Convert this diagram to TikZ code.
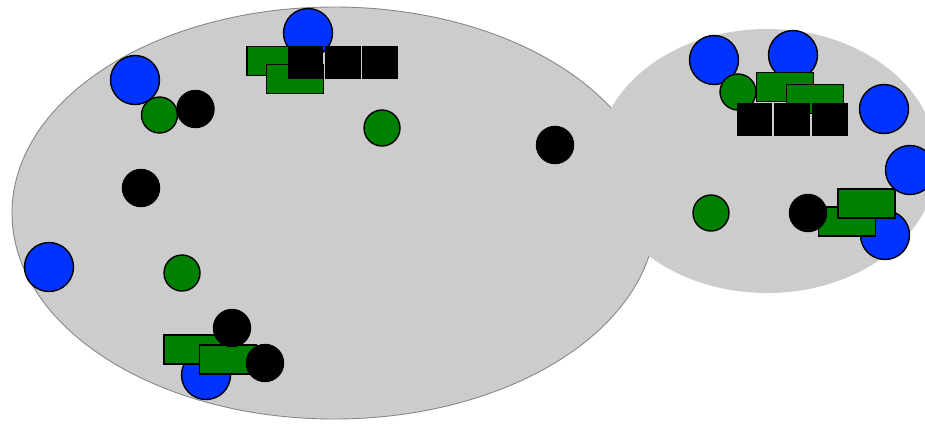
\documentclass[tikz,border=0pt]{standalone}
\begin{document}
\begin{tikzpicture}[x=1pt,y=-1pt,
  region/.style={fill=regiongray},
  bigdot/.style={circle,draw=black,line width=1.4pt,fill=dotblue,minimum size=49pt,inner sep=0pt},
  greendot/.style={circle,draw=black,line width=1.4pt,fill=dotgreen,minimum size=36pt,inner sep=0pt},
  blackdot/.style={circle,draw=black,line width=1.4pt,fill=black,minimum size=37pt,inner sep=0pt},
  greenbox/.style={rectangle,draw=black,line width=1.4pt,fill=dotgreen,minimum width=57pt,minimum height=29pt,inner sep=0pt},
  blackbox/.style={rectangle,draw=black,line width=1.4pt,fill=black,minimum width=34pt,minimum height=31pt,inner sep=0pt}]
\definecolor{regiongray}{HTML}{CCCCCC}
\definecolor{edgegray}{HTML}{888888}
\definecolor{dotblue}{HTML}{0033FF}
\definecolor{dotgreen}{HTML}{008000}
\useasboundingbox (0,0) rectangle (925,424);
\clip (0,0) rectangle (925,424);
\fill[white] (0,0) rectangle (925,424);

% the two regions
\draw[region,draw=edgegray,line width=0.9pt] (334,213) ellipse [x radius=322, y radius=206];
\fill[region] (767,161) ellipse [x radius=170, y radius=132];

% large region, upper group
\node[bigdot] (bA) at (308,33) {};
\node[greenbox] (gA1) at (275.5,61) {};
\node[greenbox] (gA2) at (295,79) {};
\node[blackbox] (kA1) at (305.5,62.5) {};
\node[blackbox] (kA2) at (343,62.5) {};
\node[blackbox] (kA3) at (380,62.5) {};

% large region, upper left group
\node[bigdot] (bB) at (135,80) {};
\node[greendot] (gB) at (159.5,115) {};
\node[blackdot] (kB) at (195.5,109) {};

% large region, single dots
\node[greendot] (gC) at (382,128) {};
\node[blackdot] (kC) at (555,145) {};
\node[blackdot] (kD) at (141,188) {};
\node[bigdot] (bD) at (49,267) {};
\node[greendot] (gD) at (182,273) {};

% large region, lower group
\node[bigdot] (bE) at (206,375) {};
\node[greenbox] (gE1) at (192.5,349.5) {};
\node[greenbox] (gE2) at (228,359.5) {};
\node[blackdot] (kE1) at (232,328) {};
\node[blackdot] (kE2) at (265,363) {};

% small region, upper group
\node[bigdot] (bF1) at (714,60) {};
\node[bigdot] (bF2) at (793,55) {};
\node[greendot] (gF) at (738,92) {};
\node[greenbox] (gF1) at (785,87) {};
\node[greenbox] (gF2) at (815,99) {};
\node[blackbox] (kF1) at (754.5,119.5) {};
\node[blackbox] (kF2) at (792,119.5) {};
\node[blackbox] (kF3) at (830,119.5) {};
\node[bigdot] (bF3) at (884,109) {};

% small region, lower group
\node[greendot] (gG) at (711,213) {};
\node[bigdot] (bG1) at (885,235) {};
\node[greenbox] (gG1) at (847,221.5) {};
\node[blackdot] (kG) at (808,213) {};
\node[greenbox] (gG2) at (866.5,203.5) {};
\node[bigdot] (bG2) at (910,170) {};
\end{tikzpicture}
\end{document}
